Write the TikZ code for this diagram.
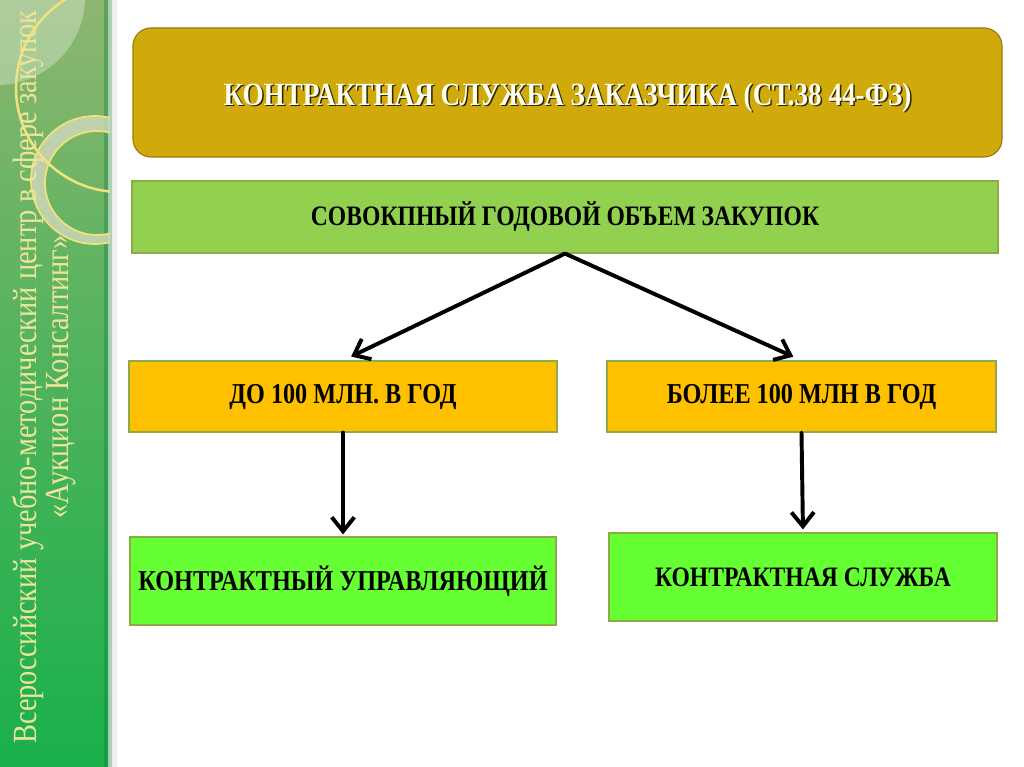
\documentclass[tikz,border=0pt]{standalone}
\usepackage{fontspec}
\setmainfont{Liberation Serif}
\newfontfamily\boxfont[FakeStretch=0.84]{Liberation Serif}
\usetikzlibrary{calc,arrows.meta}
\definecolor{gold}{RGB}{207,170,10}
\definecolor{golddark}{RGB}{150,122,16}
\definecolor{lime}{RGB}{146,208,80}
\definecolor{amber}{RGB}{255,192,0}
\definecolor{neon}{RGB}{102,255,51}
\definecolor{edge}{RGB}{140,170,70}
\definecolor{bartop}{RGB}{141,182,112}
\definecolor{barbot}{RGB}{25,176,75}
\definecolor{ring}{RGB}{242,226,122}
\definecolor{band}{RGB}{205,214,185}
\definecolor{bartext}{RGB}{237,229,154}
\tikzset{
	box/.style={draw=edge,line width=0.8pt,inner sep=0pt,font=\boxfont\bfseries\fontsize{20.5}{24}\selectfont},
	arr/.style={line width=2.8pt,line cap=round,-{Straight Barb[length=10pt,width=16pt,line width=2.8pt]}},
}
\begin{document}
\begin{tikzpicture}[x=0.025cm,y=-0.025cm]
	\newcommand{\px}{0.025cm}
	\useasboundingbox (0,0) rectangle (1024,767);
	\fill[white] (0,0) rectangle (1024,767);
	% боковая полоса
	\shade[top color=bartop,bottom color=barbot,middle color=barbot!55!bartop] (0,0) rectangle (108,767);
	\fill[barbot!70!black,opacity=0.35] (104,0) rectangle (112,767);
	\fill[black,opacity=0.06] (112,0) rectangle (117,767);
	\begin{scope}
		\clip (0,0) rectangle (110,767);
		\fill[white,opacity=0.3] (-3,-3) circle (88); %светлый сектор
		\fill[band,opacity=0.85,even odd rule] (95,180) circle (64) (97,183) circle (52); %кольцо
		\draw[ring,line width=1.2pt] (95,180) circle (64) (97,183) circle (52);
		\draw[ring,line width=1.8pt] (120,88) circle (104); %большое кольцо
	\end{scope}
	\node[rotate=90,align=center,text=bartext,font=\boxfont\fontsize{24}{22.8}\selectfont] (org) at (44,377)
		{Всероссийский учебно-методический центр в~сфере закупок\\«Аукцион Консалтинг»};
	% блоки
	\node[box,draw=golddark,fill=gold,rounded corners=0.45cm,minimum width=869*\px,minimum height=129*\px] (head) at (567.5,92.5) {};
	\node[text=black!70!golddark,font=\boxfont\bfseries\fontsize{23}{26}\selectfont] at ($(head)+(1.5,6.5)$) {КОНТРАКТНАЯ СЛУЖБА ЗАКАЗЧИКА (СТ.38 44-ФЗ)};
	\node[text=white!92!yellow,font=\boxfont\bfseries\fontsize{23}{26}\selectfont] (headtxt) at ($(head)+(0,5)$) {КОНТРАКТНАЯ СЛУЖБА ЗАКАЗЧИКА (СТ.38 44-ФЗ)};
	\node[box,fill=lime,minimum width=866*\px,minimum height=72*\px,font=\boxfont\bfseries\fontsize{20}{24}\selectfont] (vol) at (565,217) {СОВОКПНЫЙ ГОДОВОЙ ОБЪЕМ ЗАКУПОК};
	\node[box,fill=amber,minimum width=428*\px,minimum height=71*\px] (less) at (343,396.5) {ДО 100 МЛН. В ГОД};
	\node[box,fill=amber,minimum width=389*\px,minimum height=71*\px] (more) at (801.5,396.5) {БОЛЕЕ 100 МЛН В ГОД};
	\node[box,fill=neon,minimum width=426*\px,minimum height=88*\px] (mgr) at (343,581) {КОНТРАКТНЫЙ УПРАВЛЯЮЩИЙ};
	\node[box,fill=neon,minimum width=388*\px,minimum height=88*\px,font=\boxfont\bfseries\fontsize{20}{24}\selectfont] (cs) at (803,577) {КОНТРАКТНАЯ СЛУЖБА};
	% стрелки
	\draw[arr,shorten >=9*\px] (vol.south) -- (less.north);
	\draw[arr,shorten >=9*\px] (vol.south) -- (more.north);
	\draw[arr,shorten >=2*\px] (less.south) -- (mgr.north);
	\draw[arr,shorten >=3*\px] (more.south) -- (cs.north);
\end{tikzpicture}
\end{document}
